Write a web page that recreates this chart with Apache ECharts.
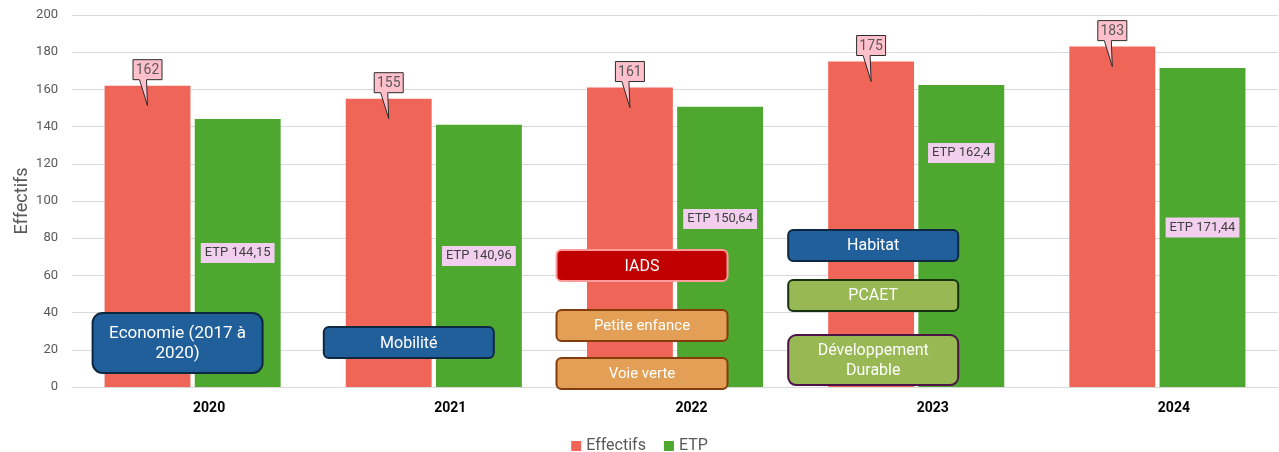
<!DOCTYPE html>
<html><head><meta charset="utf-8">
<script src="https://cdn.jsdelivr.net/npm/echarts@6/dist/echarts.min.js"></script>
<style>html,body{margin:0;padding:0;background:#fff}#c{width:1279px;height:452px}</style>
</head><body><div id="c"></div>
<script>
// ---- data ----
const categories = ['2020', '2021', '2022', '2023', '2024'];
const effectifs = [162, 155, 161, 175, 183];
const etp = [144.15, 140.96, 150.64, 162.4, 171.44];
const seriesNames = ['Effectifs', 'ETP'];
const annotationTexts = ['Economie (2017 à\n2020)', 'Mobilité', 'IADS', 'Petite enfance', 'Voie verte', 'Habitat', 'PCAET', 'Développement\nDurable'];

// ---- layout / style (not data) ----
const FONT = 'Roboto, "Liberation Sans", sans-serif';
const RED = '#EF6658', GREEN = '#4EA72E';
const CAT_GAP = 0.27, BAR_GAP = 0.05;
const etpLabelShift = [0, 0, -28, -83, 0];
// annotation layout: [category index, x offset px from category centre, y value of centre, width, height, fill, stroke, radius, fontSize]
const annotationLayout = [
  [0, -15, 23.7, 170, 60, '#215F9A', '#0E2841', 10, 17],
  [1, -25, 23.9, 170, 31, '#215F9A', '#0E2841', 5, 16],
  [2, -33, 65.3, 171, 31, '#C00000', '#FF9B9B', 5, 16],
  [2, -33, 33.1, 171, 31, '#E29F55', '#843C0C', 5, 15],
  [2, -33, 7.3, 171, 31, '#E29F55', '#843C0C', 5, 15],
  [3, -43, 76.1, 170, 31, '#215F9A', '#0E2841', 5, 16],
  [3, -43, 49.2, 170, 31, '#97B853', '#173212', 5, 16],
  [3, -43, 14.5, 170, 50, '#97B853', '#4B1347', 8, 16]
];

function fmt(v) { return String(v).replace('.', ','); }

function renderCallout(params, api) {
  const cat = api.value(0), v = api.value(1);
  const p = api.coord([cat, v]);
  const band = api.size([1, 0])[0];
  const total = band * (1 - CAT_GAP);
  const barW = total / (2 + BAR_GAP);
  const cx = p[0] - total / 2 + barW / 2;
  const top = p[1];
  const w = 29, h = 20;
  const by = top - 6;
  const tipY = top + 20;
  return {
    type: 'group',
    children: [
      { type: 'polygon', shape: { points: [[cx - w / 2, by - h], [cx + w / 2, by - h], [cx + w / 2, by], [cx - 1, by], [cx, tipY], [cx - 8, by], [cx - w / 2, by]] },
        style: { fill: '#FFC0CB', stroke: '#2b2b2b', lineWidth: 1 } },
      { type: 'text', style: { text: fmt(v), x: cx, y: by - h / 2 + 1, align: 'center', verticalAlign: 'middle', fill: '#595959', font: '14px ' + FONT } }
    ]
  };
}

const chart = echarts.init(document.getElementById('c'));
const option = {
  animation: false,
  backgroundColor: '#fff',
  grid: { left: 72, right: 1, top: 15, bottom: 65 },
  legend: {
    data: seriesNames, top: 433, left: 'center', icon: 'rect', itemWidth: 10, itemHeight: 10, itemGap: 18,
    textStyle: { color: '#595959', fontSize: 16, fontFamily: FONT }
  },
  xAxis: {
    type: 'category', data: categories,
    axisLine: { lineStyle: { color: '#d9d9d9' } }, axisTick: { show: false },
    axisLabel: { color: '#000', fontWeight: 'bold', fontSize: 14, fontFamily: FONT, margin: 14, padding: [0, 0, 0, 33] }
  },
  yAxis: {
    type: 'value', min: 0, max: 200, interval: 20,
    name: 'Effectifs', nameLocation: 'middle', nameGap: 41, nameMoveOverlap: false,
    nameTextStyle: { color: '#595959', fontSize: 18, fontFamily: FONT },
    axisLine: { show: false }, axisTick: { show: false },
    splitLine: { lineStyle: { color: '#d9d9d9' } },
    axisLabel: { color: '#595959', fontSize: 13, fontFamily: FONT, margin: 14 }
  },
  series: [
    { name: seriesNames[0], type: 'bar', data: effectifs, itemStyle: { color: RED },
      barCategoryGap: (CAT_GAP * 100) + '%', barGap: (BAR_GAP * 100) + '%' },
    { name: seriesNames[1], type: 'bar', data: etp.map((v, i) => ({
        value: v,
        label: { offset: [0, etpLabelShift[i]] }
      })), itemStyle: { color: GREEN },
      label: { show: true, position: 'inside', formatter: p => 'ETP ' + fmt(p.value),
        backgroundColor: '#F2CEEF', color: '#404040', fontSize: 13, fontFamily: FONT, padding: [4, 4, 3, 4] } },
    { name: 'callouts', type: 'custom', data: effectifs.map((v, i) => [i, v]), renderItem: renderCallout, z: 10, clip: false, silent: true, tooltip: { show: false } }
  ]
};
chart.setOption(option);

const graphics = annotationLayout.map((a, i) => {
  const [ci, dx, yv, w, h, fill, stroke, r, fs] = a;
  const pt = chart.convertToPixel({ xAxisIndex: 0, yAxisIndex: 0 }, [ci, yv]);
  const cx = pt[0] + dx, cy = pt[1];
  return {
    type: 'group', z: 100,
    children: [
      { type: 'rect', z: 100, shape: { x: cx - w / 2, y: cy - h / 2, width: w, height: h, r: r },
        style: { fill: fill, stroke: stroke, lineWidth: 2 } },
      { type: 'text', z: 101, style: { text: annotationTexts[i], x: cx, y: cy + 1, fill: '#fff', font: fs + 'px ' + FONT,
        align: 'center', verticalAlign: 'middle', lineHeight: 20 } }
    ]
  };
});
chart.setOption({ graphic: graphics });
</script>
</body></html>
